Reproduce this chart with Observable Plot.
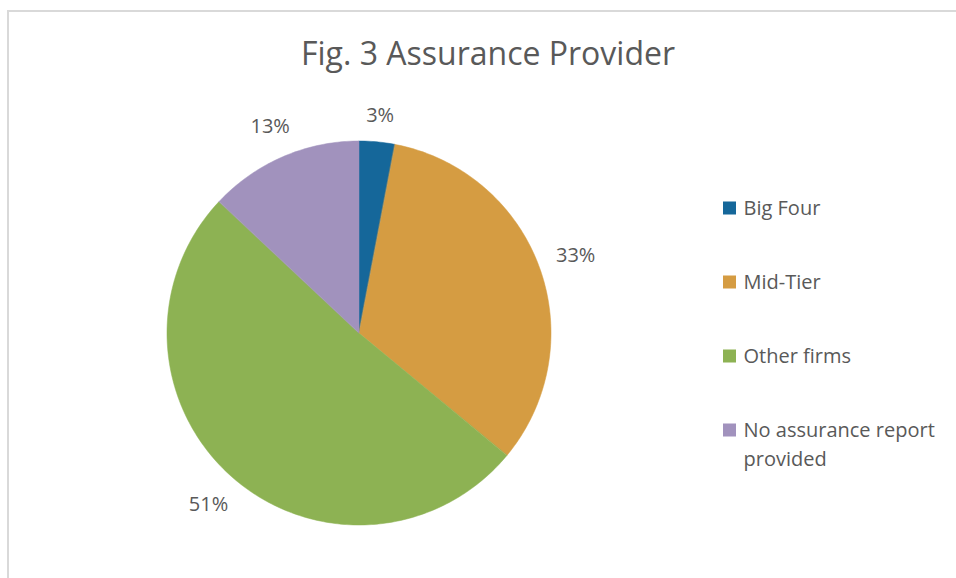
<!DOCTYPE html>
<html>
<head>
<meta charset="utf-8">
<script src="https://cdn.jsdelivr.net/npm/d3@7"></script>
<script src="https://cdn.jsdelivr.net/npm/@observablehq/plot@0.6"></script>
<style>
  html, body { margin: 0; padding: 0; background: #ffffff; }
  #chart svg { display: block; }
</style>
</head>
<body>
<div id="chart"></div>
<script>
// ---- data ----
const title = "Fig. 3 Assurance Provider";
const categories = ["Big Four", "Mid-Tier", "Other firms", "No assurance report provided"];
const shares = [3, 33, 51, 13];
const labels = ["3%", "33%", "51%", "13%"];
const colors = ["#15679a", "#d59c42", "#8db253", "#a192bd"];

// ---- layout ----
const W = 956, H = 578;
const cx = 359, cy = 333, R = 192;
const textColor = "#595959";
const font = "'Open Sans', 'Segoe UI', sans-serif";
const fs = 20;

// slices (polar -> cartesian, clockwise from 12 o'clock)
const total = d3.sum(shares);
const slices = [];
const labelRows = [];
let cum = 0;
shares.forEach((v, i) => {
  const a0 = cum / total * 2 * Math.PI;
  const a1 = (cum + v) / total * 2 * Math.PI;
  const n = Math.max(4, Math.ceil(v * 4));
  for (let k = 0; k <= n; k++) {
    const a = a0 + (a1 - a0) * k / n;
    slices.push({cat: categories[i], x1: cx, y1: cy, x2: cx + R * Math.sin(a), y2: cy - R * Math.cos(a)});
  }
  const am = (a0 + a1) / 2;
  const sx = Math.sin(am), sy = -Math.cos(am);
  const w = labels[i].length * 0.65 * fs, h = fs;
  const dist = R + 16 + Math.abs(sx) * w / 2 + Math.abs(sy) * h / 2;
  labelRows.push({label: labels[i], x: cx + dist * sx, y: cy + dist * sy});
  cum += v;
});

// legend rows
const legendX = 723, legendTop = 208, legendStep = 74, sw = 13;
const legendRows = categories.map((c, i) => ({cat: c, s: legendTop + i * legendStep}));

const chart = Plot.plot({
  width: W,
  height: H,
  margin: 0,
  x: {type: "linear", domain: [0, W], range: [0, W], axis: null},
  y: {type: "linear", domain: [0, H], range: [0, H], axis: null},
  color: {domain: categories, range: colors},
  style: {fontFamily: font, background: "#ffffff"},
  marks: [
    // chart border (left and top edges visible)
    Plot.ruleX([7.5], {y1: 10, y2: H, stroke: "#d9d9d9", strokeWidth: 2}),
    Plot.ruleY([10.5], {x1: 7, x2: W, stroke: "#d9d9d9", strokeWidth: 2}),
    // pie slices
    Plot.area(slices, {x1: "x1", y1: "y1", x2: "x2", y2: "y2", z: "cat", fill: "cat", stroke: "cat", strokeWidth: 0.5, curve: "linear"}),
    // data labels
    Plot.text(labelRows, {x: "x", y: "y", text: "label", fill: textColor, fontSize: fs, textAnchor: "middle", lineAnchor: "middle"}),
    // title
    Plot.text([title], {x: () => 487.5, y: () => 54, text: d => d, fill: textColor, fontSize: 32, textAnchor: "middle", lineAnchor: "middle"}),
    // legend swatches
    Plot.rect(legendRows, {x1: () => legendX, x2: () => legendX + sw, y1: d => d.s - sw / 2, y2: d => d.s + sw / 2, fill: "cat"}),
    // legend labels
    Plot.text(legendRows, {x: () => legendX + 20, y: d => d.s - 14, text: "cat", fill: textColor, fontSize: fs, textAnchor: "start", lineAnchor: "top", lineWidth: 10, lineHeight: 1.45})
  ]
});
document.getElementById("chart").appendChild(chart);
</script>
</body>
</html>
